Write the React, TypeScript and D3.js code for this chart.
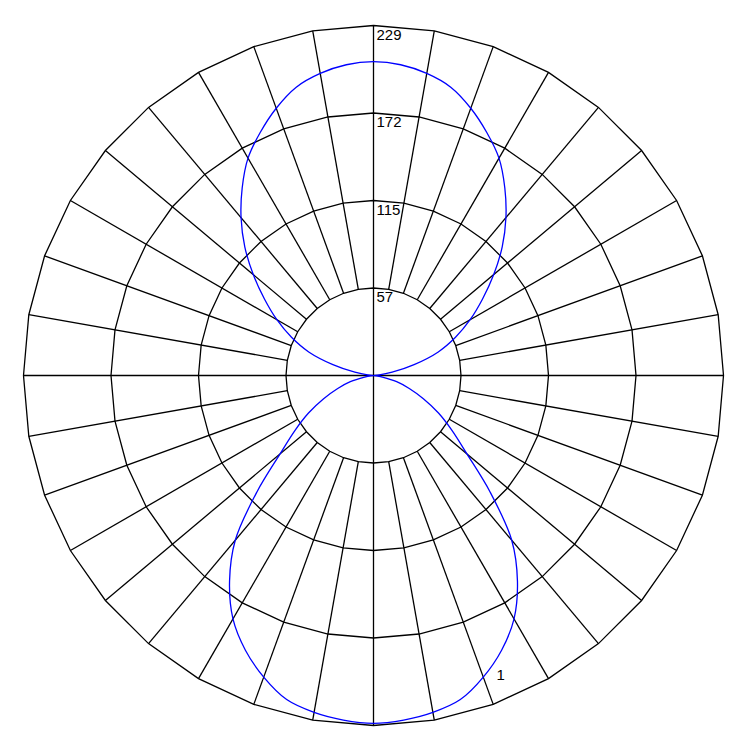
import { useEffect, useRef } from 'react';
import * as d3 from 'd3';

// rings of the polar grid and their labels
const ringValues = [57.25, 114.5, 171.75, 229];
const ringLabels = ['57', '115', '172', '229'];
const spokeAngles = d3.range(0, 360, 10);

// pattern, degrees clockwise from top
const patternAngles = d3.range(0, 360, 5);
const patternValues = [
  205.3, 204.1, 200.7, 195.3, 186.1, 175.4, 164.2, 149.8, 134.8, 119.1, 102.7, 87.0, 73.0, 59.2,
  45.1, 27.5, 12.4, 3.9, 0,
  2.0, 5.9, 15.7, 24.9, 36.0, 49.1, 62.8, 79.8, 108.0, 140.7, 164.2, 183.9, 198.3, 210.0, 219.5,
  223.8, 226.3, 227.6,
  226.3, 223.8, 219.5, 210.0, 198.3, 183.9, 164.2, 140.7, 108.0, 79.8, 62.8, 49.1, 36.0, 24.9,
  15.7, 5.9, 2.0, 0,
  3.9, 12.4, 27.5, 45.1, 59.2, 73.0, 87.0, 102.7, 119.1, 134.8, 149.8, 164.2, 175.4, 186.1, 195.3,
  200.7, 204.1
];

const seriesLabel = '1';
const seriesLabelAngle = 157;
const seriesLabelValue = 213;

const width = 750;
const height = 750;
const center = { x: 373.5, y: 375.5 };
const outerRadius = 350;

export default function App() {
  const ref = useRef<SVGSVGElement>(null);

  useEffect(() => {
    const svgEl = d3.select(ref.current);
    svgEl.selectAll('*').remove();

    const rScale = d3.scaleLinear().domain([0, 229]).range([0, outerRadius]);
    const toRad = (deg: number) => (deg * Math.PI) / 180;

    const root = svgEl.append('g').attr('transform', `translate(${center.x},${center.y})`);

    // polygon rings
    const ringLine = d3
      .lineRadial<number>()
      .angle((deg) => toRad(deg))
      .curve(d3.curveLinearClosed);

    const grid = root.append('g').attr('fill', 'none').attr('stroke', '#000').attr('stroke-width', 1.3);

    ringValues.forEach((value) => {
      grid
        .append('path')
        .attr('d', ringLine.radius(rScale(value))(spokeAngles));
    });

    // spokes, the axes run through the centre
    grid
      .selectAll('line.spoke')
      .data(spokeAngles)
      .enter()
      .append('line')
      .attr('class', 'spoke')
      .attr('x1', (deg) => (deg % 90 === 0 ? 0 : rScale(ringValues[0]) * Math.sin(toRad(deg))))
      .attr('y1', (deg) => (deg % 90 === 0 ? 0 : -rScale(ringValues[0]) * Math.cos(toRad(deg))))
      .attr('x2', (deg) => rScale(229) * Math.sin(toRad(deg)))
      .attr('y2', (deg) => -rScale(229) * Math.cos(toRad(deg)));

    // ring labels
    root
      .append('g')
      .attr('font-family', '"Liberation Sans", Arial, sans-serif')
      .attr('font-size', '15px')
      .attr('fill', '#000')
      .selectAll('text')
      .data(ringValues)
      .enter()
      .append('text')
      .attr('x', 3)
      .attr('y', (value) => -rScale(value) + 14)
      .text((_, i) => ringLabels[i]);

    // pattern curve
    const patternLine = d3
      .lineRadial<number>()
      .angle((_, i) => toRad(patternAngles[i]))
      .radius((value) => rScale(value))
      .curve(d3.curveCatmullRomClosed);

    root
      .append('path')
      .attr('d', patternLine(patternValues))
      .attr('fill', 'none')
      .attr('stroke', '#0000ff')
      .attr('stroke-width', 1.3);

    root
      .append('text')
      .attr('x', rScale(seriesLabelValue) * Math.sin(toRad(seriesLabelAngle)))
      .attr('y', -rScale(seriesLabelValue) * Math.cos(toRad(seriesLabelAngle)))
      .attr('dy', '0.35em')
      .attr('text-anchor', 'middle')
      .attr('font-family', '"Liberation Sans", Arial, sans-serif')
      .attr('font-size', '15px')
      .attr('fill', '#000')
      .text(seriesLabel);
  }, []);

  return (
    <svg
      ref={ref}
      width={width}
      height={height}
      style={{ position: 'absolute', left: 0, top: 0, background: '#fff' }}
    />
  );
}
